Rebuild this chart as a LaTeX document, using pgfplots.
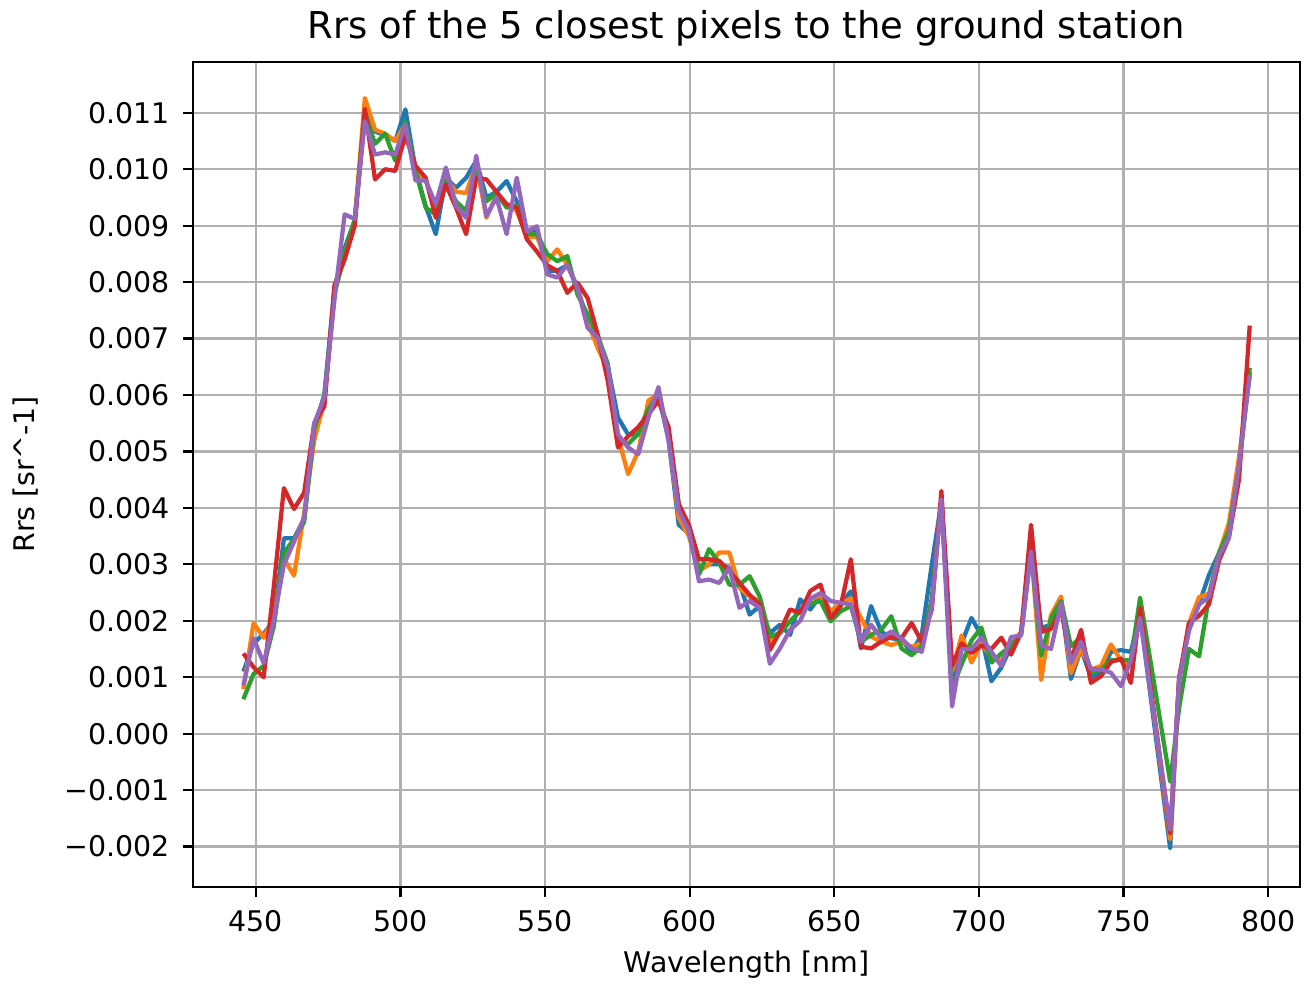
\documentclass[border=0pt]{standalone}
\usepackage{pgfplots}
\pgfplotsset{compat=1.18}
\usepackage{pgfplotstable}
\usepackage{fontspec}
\setmainfont{DejaVu Sans}
\definecolor{c1}{HTML}{1F77B4}
\definecolor{c2}{HTML}{FF7F0E}
\definecolor{c3}{HTML}{2CA02C}
\definecolor{c4}{HTML}{D62728}
\definecolor{c5}{HTML}{9467BD}
\pgfplotstableread{
x B O G R P
445.7 0.00110 0.00079 0.00061 0.00142 0.00085
449.2 0.00160 0.00196 0.00106 0.00118 0.00169
452.7 0.00177 0.00170 0.00120 0.00100 0.00125
456.2 0.00200 0.00205 0.00190 0.00260 0.00200
459.7 0.00346 0.00310 0.00320 0.00435 0.00300
463.2 0.00346 0.00280 0.00345 0.00398 0.00340
466.7 0.00380 0.00390 0.00375 0.00427 0.00383
470.2 0.00540 0.00520 0.00540 0.00550 0.00550
473.7 0.00600 0.00590 0.00600 0.00580 0.00596
477.2 0.00790 0.00780 0.00780 0.00795 0.00770
480.7 0.00860 0.00850 0.00850 0.00840 0.00920
484.2 0.00910 0.00910 0.00910 0.00900 0.00912
487.7 0.01100 0.01126 0.01100 0.01107 0.01085
491.2 0.01067 0.01070 0.01045 0.00982 0.01026
494.7 0.01060 0.01063 0.01063 0.01000 0.01030
498.2 0.01050 0.01050 0.01015 0.00997 0.01026
501.7 0.01106 0.01080 0.01085 0.01060 0.01080
505.2 0.01000 0.01000 0.00997 0.01006 0.00980
508.7 0.00935 0.00980 0.00932 0.00985 0.00980
512.2 0.00885 0.00930 0.00920 0.00914 0.00938
515.7 0.00985 0.00985 0.00980 0.00973 0.01003
519.2 0.00967 0.00960 0.00943 0.00932 0.00935
522.7 0.00985 0.00958 0.00926 0.00885 0.00914
526.2 0.01015 0.01010 0.01003 0.00985 0.01024
529.7 0.00950 0.00914 0.00943 0.00982 0.00917
533.2 0.00960 0.00955 0.00958 0.00960 0.00950
536.7 0.00979 0.00938 0.00932 0.00938 0.00885
540.2 0.00943 0.00926 0.00935 0.00932 0.00985
543.7 0.00885 0.00880 0.00885 0.00876 0.00890
547.2 0.00890 0.00880 0.00885 0.00854 0.00899
550.7 0.00820 0.00837 0.00850 0.00830 0.00814
554.2 0.00820 0.00858 0.00837 0.00820 0.00808
557.7 0.00830 0.00830 0.00846 0.00781 0.00831
561.2 0.00790 0.00790 0.00778 0.00799 0.00790
564.7 0.00730 0.00730 0.00743 0.00772 0.00719
568.2 0.00700 0.00683 0.00705 0.00707 0.00701
571.7 0.00650 0.00645 0.00655 0.00624 0.00649
575.2 0.00560 0.00525 0.00520 0.00507 0.00530
578.7 0.00530 0.00460 0.00513 0.00527 0.00507
582.2 0.00530 0.00500 0.00531 0.00543 0.00495
585.7 0.00578 0.00590 0.00575 0.00566 0.00560
589.2 0.00600 0.00602 0.00600 0.00590 0.00614
592.7 0.00520 0.00525 0.00530 0.00543 0.00519
596.2 0.00370 0.00383 0.00407 0.00407 0.00395
599.7 0.00355 0.00350 0.00360 0.00370 0.00360
603.2 0.00294 0.00288 0.00282 0.00309 0.00270
606.7 0.00300 0.00300 0.00327 0.00309 0.00273
610.2 0.00300 0.00321 0.00303 0.00306 0.00267
613.7 0.00294 0.00321 0.00264 0.00288 0.00294
617.2 0.00267 0.00258 0.00264 0.00267 0.00223
620.7 0.00211 0.00243 0.00279 0.00246 0.00235
624.2 0.00226 0.00235 0.00243 0.00229 0.00223
627.7 0.00178 0.00163 0.00172 0.00148 0.00124
631.2 0.00193 0.00181 0.00178 0.00181 0.00151
634.7 0.00175 0.00199 0.00199 0.00220 0.00184
638.2 0.00238 0.00217 0.00217 0.00214 0.00200
641.7 0.00220 0.00238 0.00230 0.00253 0.00239
645.2 0.00245 0.00245 0.00235 0.00264 0.00249
648.7 0.00217 0.00217 0.00199 0.00205 0.00235
652.2 0.00230 0.00230 0.00217 0.00226 0.00232
655.7 0.00252 0.00240 0.00226 0.00309 0.00229
659.2 0.00151 0.00205 0.00163 0.00154 0.00163
662.7 0.00226 0.00172 0.00175 0.00151 0.00193
666.2 0.00181 0.00163 0.00184 0.00163 0.00169
669.7 0.00169 0.00157 0.00208 0.00172 0.00181
673.2 0.00166 0.00163 0.00151 0.00169 0.00169
676.7 0.00145 0.00154 0.00139 0.00196 0.00151
680.2 0.00175 0.00160 0.00155 0.00163 0.00145
683.7 0.00300 0.00230 0.00240 0.00220 0.00225
687.0 0.00410 0.00415 0.00415 0.00430 0.00415
690.7 0.00096 0.00110 0.00080 0.00120 0.00048
694.0 0.00160 0.00174 0.00123 0.00160 0.00150
697.4 0.00205 0.00126 0.00165 0.00143 0.00150
700.8 0.00174 0.00160 0.00188 0.00156 0.00170
704.3 0.00093 0.00135 0.00126 0.00150 0.00145
707.7 0.00117 0.00130 0.00142 0.00170 0.00120
711.1 0.00155 0.00155 0.00155 0.00140 0.00171
714.6 0.00180 0.00180 0.00178 0.00180 0.00174
718.0 0.00325 0.00330 0.00325 0.00370 0.00323
721.5 0.00188 0.00095 0.00138 0.00180 0.00156
724.9 0.00192 0.00210 0.00204 0.00186 0.00150
728.4 0.00235 0.00243 0.00235 0.00219 0.00231
731.8 0.00097 0.00107 0.00155 0.00130 0.00125
735.3 0.00150 0.00150 0.00171 0.00184 0.00163
738.7 0.00100 0.00114 0.00108 0.00090 0.00114
742.2 0.00108 0.00120 0.00114 0.00102 0.00114
745.6 0.00145 0.00158 0.00130 0.00127 0.00108
749.1 0.00148 0.00130 0.00130 0.00133 0.00084
752.5 0.00145 0.00120 0.00130 0.00090 0.00130
755.7 0.00210 0.00220 0.00241 0.00223 0.00205
766.1 -0.00203 -0.00187 -0.00085 -0.00177 -0.00170
769.2 0.00100 0.00095 0.00046 0.00098 0.00095
772.6 0.00185 0.00196 0.00150 0.00196 0.00183
776.1 0.00230 0.00242 0.00137 0.00209 0.00229
779.5 0.00281 0.00248 0.00242 0.00229 0.00242
783.0 0.00320 0.00320 0.00320 0.00307 0.00315
786.4 0.00360 0.00373 0.00360 0.00347 0.00347
789.9 0.00480 0.00490 0.00470 0.00451 0.00477
793.6 0.00641 0.00635 0.00648 0.00723 0.00635
}\data
\begin{document}
\begin{tikzpicture}
\begin{axis}[
  scale only axis,
  width=389.3pt, height=290.2pt,
  xmin=428.3, xmax=811.0,
  ymin=-0.00272, ymax=0.0119,
  xtick={450,500,550,600,650,700,750,800},
  xticklabels={450,500,550,600,650,700,750,800},
  ytick={-0.002,-0.001,0,0.001,0.002,0.003,0.004,0.005,0.006,0.007,0.008,0.009,0.010,0.011},
  yticklabels={−0.002,−0.001,0.000,0.001,0.002,0.003,0.004,0.005,0.006,0.007,0.008,0.009,0.010,0.011},
  scaled y ticks=false,
  tick pos=left,
  tick align=outside,
  major tick length=3.5pt,
  tick style={black, line width=0.8pt},
  axis line style={line width=0.8pt},
  grid=major,
  major grid style={color=black!31, line width=0.8pt},
  tick label style={font=\fontsize{10}{12}\selectfont},
  xticklabel style={yshift=-1.2pt},
  yticklabel style={xshift=-1.2pt},
  title={Rrs of the 5 closest pixels to the ground station},
  title style={font=\fontsize{13}{15}\selectfont, at={(axis description cs:0.5,1)}, anchor=center, yshift=6pt},
  xlabel={Wavelength [nm]},
  xlabel style={at={(axis description cs:0.5,0)}, anchor=center, yshift=-27.4pt},
  ylabel={Rrs [sr\textasciicircum-1]},
  ylabel style={at={(axis description cs:-0.1516,0.5)}, anchor=center},
  label style={font=\fontsize{10}{12}\selectfont},
  every axis plot/.append style={line width=1.5pt, line join=round, no markers},
]
\addplot[c1] table[x=x,y=B]{\data};
\addplot[c2] table[x=x,y=O]{\data};
\addplot[c3] table[x=x,y=G]{\data};
\addplot[c4] table[x=x,y=R]{\data};
\addplot[c5] table[x=x,y=P]{\data};
\end{axis}
\pgfresetboundingbox
\path[use as bounding box] ([xshift=-67.9pt,yshift=-33.8pt]current axis.south west) rectangle ([xshift=3.5pt,yshift=21.8pt]current axis.north east);
\end{tikzpicture}
\end{document}
